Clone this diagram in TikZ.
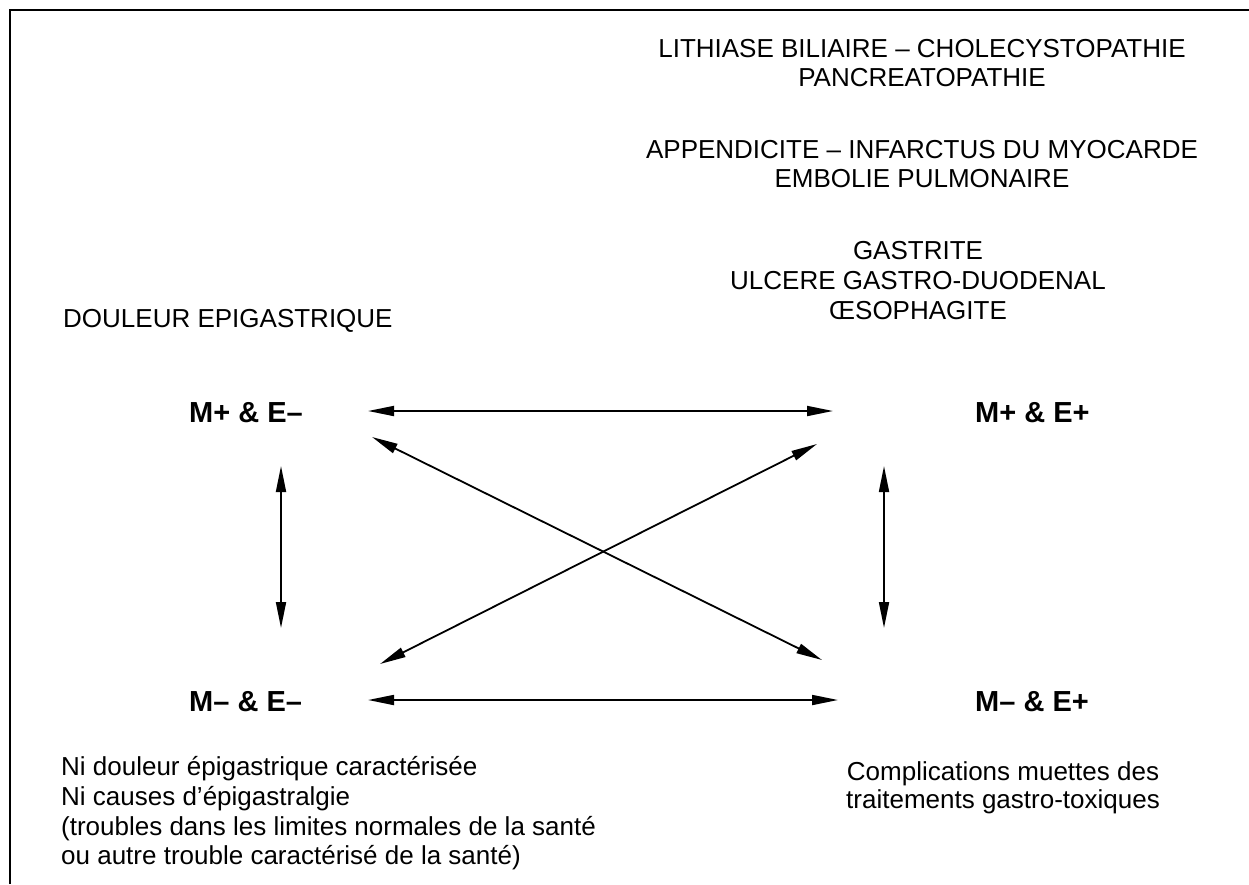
\documentclass[tikz,border=0pt]{standalone}
\usepackage{fontspec}
\setmainfont{Liberation Sans}
\usetikzlibrary{arrows.meta}
\begin{document}
\begin{tikzpicture}[x=1pt,y=-1pt,
  txt/.style={font=\fontsize{26}{29.5}\selectfont, inner sep=0pt},
  lab/.style={font=\fontsize{29}{33}\selectfont\bfseries, inner sep=0pt, anchor=base west},
  arr/.style={line width=1.8pt, {Triangle[length=26pt,width=10pt]}-{Triangle[length=26pt,width=10pt]}}]
\useasboundingbox (0,0) rectangle (1249,884);
\draw[line width=2pt] (10,884) -- (10,10) -- (1249,10);

% top right blocks
\node[txt, anchor=base] (l1) at (922,57.3) {LITHIASE BILIAIRE – CHOLECYSTOPATHIE};
\node[txt, anchor=base] (l2) at (922,86.3) {PANCREATOPATHIE};
\node[txt, anchor=base] (a1) at (922,158.3) {APPENDICITE – INFARCTUS DU MYOCARDE};
\node[txt, anchor=base] (a2) at (922,187.3) {EMBOLIE PULMONAIRE};
\node[txt, anchor=base] (g1) at (918,259.3) {GASTRITE};
\node[txt, anchor=base] (g2) at (918,289.3) {ULCERE GASTRO-DUODENAL};
\node[txt, anchor=base] (g3) at (918,319.3) {ŒSOPHAGITE};
\node[txt, anchor=base west] (dou) at (63,327.3) {DOULEUR EPIGASTRIQUE};

% labels
\node[lab] (mpem) at (189,422) {M+ \& E–};
\node[lab] (mpep) at (975,422) {M+ \& E+};
\node[lab] (mmem) at (189,711) {M– \& E–};
\node[lab] (mmep) at (975,711) {M– \& E+};

% bottom texts
\node[txt, anchor=base west] (n1) at (61,775.5) {Ni douleur épigastrique caractérisée};
\node[txt, anchor=base west] (n2) at (61,805) {Ni causes d’épigastralgie};
\node[txt, anchor=base west] (n3) at (61,835) {(troubles dans les limites normales de la santé};
\node[txt, anchor=base west] (n4) at (61,864.5) {ou autre trouble caractérisé de la santé)};
\node[txt, anchor=base] (c1) at (1003,780) {Complications muettes des};
\node[txt, anchor=base] (c2) at (1003,808) {traitements gastro-toxiques};

% arrow end points
\coordinate (th1) at (368,411);  \coordinate (th2) at (833,411);
\coordinate (bh1) at (368,700);  \coordinate (bh2) at (838,700);
\coordinate (lv1) at (281,466);  \coordinate (lv2) at (281,628);
\coordinate (rv1) at (884,466);  \coordinate (rv2) at (884,628);
\coordinate (da1) at (372,437);  \coordinate (da2) at (822,660);
\coordinate (db1) at (380,664);  \coordinate (db2) at (817,444);

\draw[arr] (th1) -- (th2);
\draw[arr] (bh1) -- (bh2);
\draw[arr] (lv1) -- (lv2);
\draw[arr] (rv1) -- (rv2);
\draw[arr] (da1) -- (da2);
\draw[arr] (db1) -- (db2);
\end{tikzpicture}
\end{document}
